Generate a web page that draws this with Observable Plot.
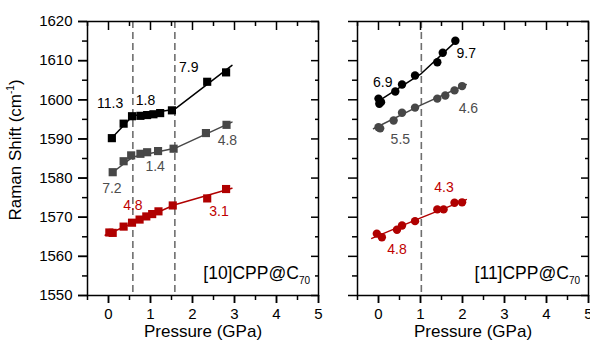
<!DOCTYPE html>
<html>
<head>
<meta charset="utf-8">
<script src="https://cdn.jsdelivr.net/npm/d3@7"></script>
<script src="https://cdn.jsdelivr.net/npm/@observablehq/plot@0.6"></script>
<style>
  html, body { margin: 0; padding: 0; background: #fff; }
  #chart { position: relative; width: 590px; height: 350px; font-family: "Liberation Sans", Arial, sans-serif; }
  #chart svg { position: absolute; top: 0; }
</style>
</head>
<body>
<div id="chart"></div>
<script>
// ---------- tick values ----------
const yMajor = [1550, 1560, 1570, 1580, 1590, 1600, 1610, 1620];
const yMinor = [1555, 1565, 1575, 1585, 1595, 1605, 1615];
const xMajor = [0, 1, 2, 3, 4, 5];
const xMinor = [-0.5, 0.5, 1.5, 2.5, 3.5, 4.5];

// ---------- [10]CPP@C70 (left panel, squares) ----------
const L_black_x = [0.08, 0.36, 0.56, 0.76, 0.92, 1.07, 1.23, 1.51, 2.35, 2.80];
const L_black_y = [1590.2, 1593.9, 1595.8, 1595.9, 1596.1, 1596.3, 1596.6, 1597.3, 1604.6, 1607.0];
const L_gray_x  = [0.10, 0.36, 0.54, 0.76, 0.92, 1.18, 1.55, 2.32, 2.81];
const L_gray_y  = [1581.5, 1584.3, 1585.8, 1586.2, 1586.6, 1586.9, 1587.5, 1591.5, 1593.6];
const L_red_x   = [0.02, 0.10, 0.36, 0.56, 0.74, 0.90, 1.04, 1.19, 1.53, 2.35, 2.80];
const L_red_y   = [1566.1, 1566.0, 1567.6, 1568.6, 1569.4, 1570.2, 1570.8, 1571.5, 1573.0, 1574.8, 1577.2];
// piecewise linear fits
const L_black_fit_x = [0.05, 0.58, 1.58, 2.94];
const L_black_fit_y = [1589.9, 1595.9, 1597.6, 1608.8];
const L_gray_fit_x  = [0.08, 0.58, 1.58, 2.94];
const L_gray_fit_y  = [1581.3, 1585.4, 1587.6, 1594.3];
const L_red_fit_x   = [-0.08, 1.58, 2.94];
const L_red_fit_y   = [1565.4, 1573.2, 1577.4];
const L_dashes = [0.58, 1.58];
// slope annotations
const L_lab_text   = ["11.3", "1.8", "7.9", "7.2", "1.4", "4.8", "4.8", "3.1"];
const L_lab_series = ["black", "black", "black", "gray", "gray", "gray", "red", "red"];
const L_lab_x = [0.04, 0.88, 1.91, 0.08, 1.11, 2.83, 0.58, 2.63];
const L_lab_y = [1599.0, 1599.8, 1608.3, 1577.3, 1583.0, 1589.6, 1573.0, 1571.5];

// ---------- [11]CPP@C70 (right panel, circles) ----------
const R_black_x = [0.00, 0.06, 0.02, 0.40, 0.56, 0.87, 1.40, 1.53, 1.83];
const R_black_y = [1600.3, 1599.4, 1599.0, 1602.1, 1603.9, 1606.2, 1609.6, 1612.0, 1615.1];
const R_gray_x  = [0.00, 0.04, 0.36, 0.56, 0.87, 1.40, 1.59, 1.81, 1.99];
const R_gray_y  = [1593.0, 1592.7, 1594.7, 1596.7, 1598.0, 1600.3, 1601.1, 1602.4, 1603.5];
const R_red_x   = [-0.04, 0.08, 0.44, 0.56, 0.87, 1.40, 1.55, 1.81, 1.99];
const R_red_y   = [1565.8, 1564.9, 1566.8, 1567.9, 1569.0, 1572.0, 1572.0, 1573.7, 1573.8];
const R_black_fit_x = [-0.02, 1.02, 1.88];
const R_black_fit_y = [1599.5, 1606.7, 1615.3];
const R_gray_fit_x  = [-0.12, 1.02, 2.09];
const R_gray_fit_y  = [1592.6, 1598.7, 1603.9];
const R_red_fit_x   = [-0.16, 1.02, 2.09];
const R_red_fit_y   = [1564.6, 1569.9, 1574.5];
const R_dashes = [1.02];
const R_lab_text   = ["6.9", "9.7", "5.5", "4.6", "4.8", "4.3"];
const R_lab_series = ["black", "black", "gray", "gray", "red", "red"];
const R_lab_x = [0.10, 2.09, 0.52, 2.14, 0.44, 1.56];
const R_lab_y = [1604.5, 1611.9, 1589.9, 1597.7, 1561.7, 1577.7];

// ---------- styles ----------
const lineColor  = {black: "#000000", gray: "#474747", red: "#b00000"};
const labelColor = {black: "#000000", gray: "#4d4d4d", red: "#c00000"};
const FONT = "'Liberation Sans', Arial, sans-serif";

const pts = (xs, ys) => xs.map((x, i) => ({x, y: ys[i]}));
const labs = (t, s, xs, ys) => t.map((d, i) => ({text: d, s: s[i], x: xs[i], y: ys[i]}));
const noText = () => "";

function panel(o) {
  const marks = [
    Plot.ruleX(o.dashes, {stroke: "#6f6f6f", strokeWidth: 1.6, strokeDasharray: "7,4"})
  ];
  for (const s of ["red", "gray", "black"]) {
    marks.push(Plot.line(o.fits[s], {x: "x", y: "y", stroke: lineColor[s], strokeWidth: 1.5}));
    marks.push(Plot.dot(o.series[s], {x: "x", y: "y", fill: lineColor[s], stroke: "none", symbol: o.symbol, r: o.r}));
  }
  marks.push(Plot.text(o.labels, {x: "x", y: "y", text: "text", fill: d => labelColor[d.s], fontSize: 14}));
  marks.push(Plot.frame({stroke: "#000", strokeWidth: 1.5}));
  const tk = {strokeWidth: 1.5, label: null, tickFormat: noText};
  marks.push(Plot.axisY(yMajor, {...tk, anchor: "left", tickSize: 9}));
  marks.push(Plot.axisY(yMinor, {...tk, anchor: "left", tickSize: 5}));
  marks.push(Plot.axisY(yMajor, {...tk, anchor: "right", tickSize: -8}));
  marks.push(Plot.axisY(yMinor, {...tk, anchor: "right", tickSize: -4}));
  marks.push(Plot.axisX(xMajor, {...tk, anchor: "bottom", tickSize: 8}));
  marks.push(Plot.axisX(xMinor, {...tk, anchor: "bottom", tickSize: 5}));
  marks.push(Plot.axisX(xMajor, {...tk, anchor: "top", tickSize: -8}));
  marks.push(Plot.axisX(xMinor, {...tk, anchor: "top", tickSize: -4}));
  marks.push(Plot.axisX(xMajor, {anchor: "bottom", tickSize: 8, tickPadding: 5, fontSize: 15, label: null, strokeWidth: 1.5, tickFormat: "d"}));
  if (o.yText) marks.push(Plot.axisY(yMajor, {anchor: "left", tickSize: 9, tickPadding: 6, fontSize: 15, label: null, strokeWidth: 1.5, tickFormat: "d"}));
  marks.push(Plot.text(["Pressure (GPa)"], {frameAnchor: "bottom", lineAnchor: "middle", dy: 36, fontSize: 17, fill: "#000"}));

  const svg = Plot.plot({
    width: o.width, height: 350,
    marginLeft: o.mL, marginRight: o.mR, marginTop: 21, marginBottom: 55,
    x: {domain: [-0.5, 5]},
    y: {domain: [1550, 1620]},
    style: {fontFamily: FONT, fontSize: "15px", color: "#000", background: "transparent", overflow: "visible"},
    marks
  });
  svg.style.left = o.left + "px";
  // panel title with subscript
  const t = d3.select(svg).append("text")
    .attr("x", o.width - o.mR - 8).attr("y", 279)
    .attr("text-anchor", "end").attr("font-family", FONT).attr("font-size", 17.5).attr("fill", "#000")
    .text(o.title);
  t.append("tspan").attr("font-size", 10).attr("dy", 5).text("70");
  return svg;
}

const left = panel({
  width: 335, left: 0, mL: 87, mR: 17, yText: true, symbol: "square", r: 4.6,
  dashes: L_dashes, title: "[10]CPP@C",
  series: {black: pts(L_black_x, L_black_y), gray: pts(L_gray_x, L_gray_y), red: pts(L_red_x, L_red_y)},
  fits: {black: pts(L_black_fit_x, L_black_fit_y), gray: pts(L_gray_fit_x, L_gray_fit_y), red: pts(L_red_fit_x, L_red_fit_y)},
  labels: labs(L_lab_text, L_lab_series, L_lab_x, L_lab_y)
});
const right = panel({
  width: 255, left: 335, mL: 22, mR: 2, yText: false, symbol: "circle", r: 4.2,
  dashes: R_dashes, title: "[11]CPP@C",
  series: {black: pts(R_black_x, R_black_y), gray: pts(R_gray_x, R_gray_y), red: pts(R_red_x, R_red_y)},
  fits: {black: pts(R_black_fit_x, R_black_fit_y), gray: pts(R_gray_fit_x, R_gray_fit_y), red: pts(R_red_fit_x, R_red_fit_y)},
  labels: labs(R_lab_text, R_lab_series, R_lab_x, R_lab_y)
});

// y-axis title with superscript
const yl = d3.select(left).append("text")
  .attr("transform", "translate(21,150) rotate(-90)")
  .attr("text-anchor", "middle").attr("font-family", FONT).attr("font-size", 17).attr("fill", "#000")
  .text("Raman Shift (cm");
yl.append("tspan").attr("font-size", 10).attr("dy", -7).text("-1");
yl.append("tspan").attr("dy", 7).text(")");

const chart = document.getElementById("chart");
chart.appendChild(left);
chart.appendChild(right);
</script>
</body>
</html>
